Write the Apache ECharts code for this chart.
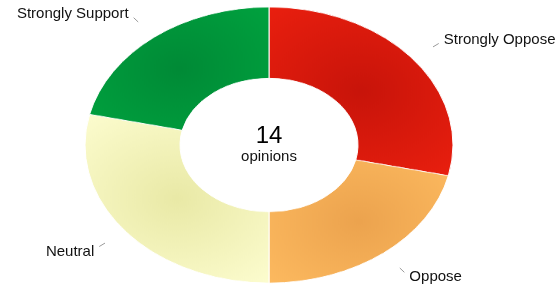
<!DOCTYPE html>
<html>
<head>
<meta charset="utf-8">
<script src="https://cdn.jsdelivr.net/npm/echarts@6/dist/echarts.min.js"></script>
<style>
  html, body { margin: 0; padding: 0; background: #fff; }
  #wrap { position: relative; width: 558px; height: 285px; overflow: hidden; }
  #pie { position: absolute; left: 0; top: 0; width: 558px; height: 380px; transform: scaleY(0.75); transform-origin: 0 0; }
  #labels { position: absolute; left: 0; top: 0; width: 558px; height: 285px; }
</style>
</head>
<body>
<div id="wrap">
  <div id="pie"></div>
  <div id="labels"></div>
</div>
<script>
// ---- data ----
const categories = ['Strongly Oppose', 'Oppose', 'Neutral', 'Strongly Support'];
const values = [4, 3, 4, 3];
const centerCaption = 'opinions';
// ---- style ----
const innerColors = ['#c8140a', '#eca34e', '#e9e9a6', '#008a36'];
const outerColors = ['#ec200f', '#ffbd62', '#fefed2', '#00a540'];

const CX = 269, CY = 145, RX = 184, RY = 138, K = RY / RX;
const total = values.reduce((a, b) => a + b, 0);

const pieData = categories.map((name, i) => ({
  name: name,
  value: values[i],
  itemStyle: {
    color: {
      type: 'radial', x: 0.5, y: 0.5, r: 0.85,
      colorStops: [
        { offset: 0, color: innerColors[i] },
        { offset: 1, color: outerColors[i] }
      ]
    }
  }
}));

const pieChart = echarts.init(document.getElementById('pie'), null, { renderer: 'canvas' });
pieChart.setOption({
  animation: false,
  series: [{
    type: 'pie',
    center: [CX, CY / K],
    radius: [89, RX],
    startAngle: 90,
    clockwise: true,
    silent: true,
    label: { show: false },
    labelLine: { show: false },
    itemStyle: { borderColor: '#ffffff', borderWidth: 1 },
    data: pieData
  }]
});

// mid angles (from 12 o'clock, clockwise)
const midAngles = [];
let acc = 0;
values.forEach(v => { midAngles.push((acc + v / 2) / total * 2 * Math.PI); acc += v; });

const labelChart = echarts.init(document.getElementById('labels'), null, { renderer: 'canvas' });
labelChart.setOption({
  animation: false,
  graphic: [
    { type: 'text', x: CX, y: 136, style: { text: String(total), font: '24px "Liberation Sans", Arial, sans-serif', fill: '#000', align: 'center', verticalAlign: 'middle' } },
    { type: 'text', x: CX, y: 157, style: { text: centerCaption, font: '15px "Liberation Sans", Arial, sans-serif', fill: '#111', align: 'center', verticalAlign: 'middle' } }
  ],
  series: [{
    type: 'pie',
    center: [CX, CY],
    radius: [60, RY],
    startAngle: 90,
    silent: true,
    itemStyle: { color: 'rgba(0,0,0,0)' },
    label: {
      show: true,
      color: '#111',
      fontSize: 15,
      fontFamily: '"Liberation Sans", Arial, sans-serif'
    },
    labelLine: { show: true, lineStyle: { color: '#9a9a9a', width: 1 } },
    labelLayout: function (params) {
      const a = midAngles[params.dataIndex];
      const s = Math.sin(a), c = Math.cos(a);
      const p1 = [CX + 1.14 * RX * s, CY - 1.14 * RY * c];
      const p2 = [CX + 1.18 * RX * s, CY - 1.18 * RY * c];
      const right = s > 0;
      return {
        x: p2[0] + (right ? 5 : -5),
        y: p2[1] + (c > 0 ? -4 : 5),
        align: right ? 'left' : 'right',
        verticalAlign: 'middle',
        labelLinePoints: [p1, p2, p2]
      };
    },
    data: categories.map((n, i) => ({ name: n, value: values[i] }))
  }]
});
</script>
</body>
</html>
